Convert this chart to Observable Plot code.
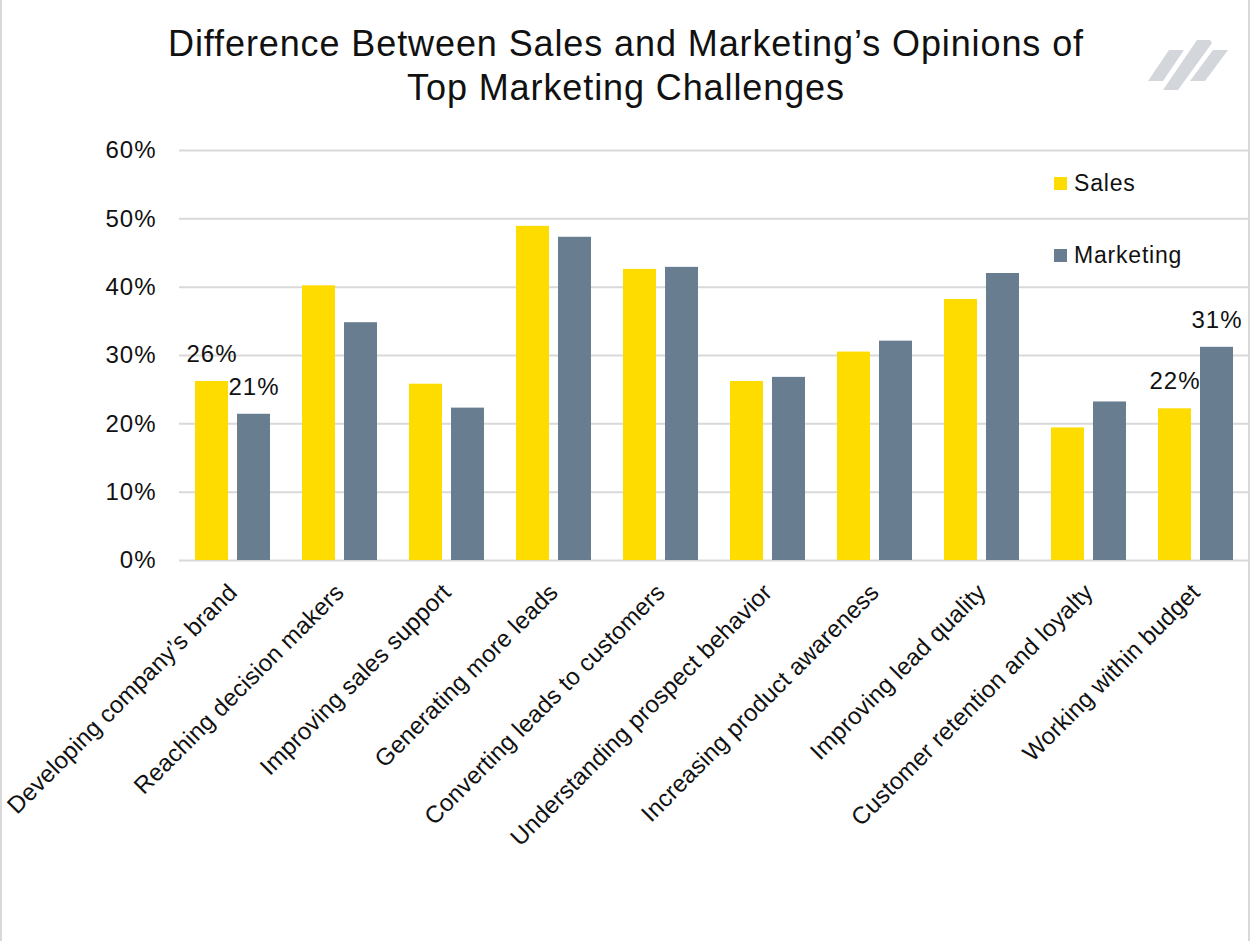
<!DOCTYPE html>
<html>
<head>
<meta charset="utf-8">
<script src="https://cdn.jsdelivr.net/npm/d3@7"></script>
<script src="https://cdn.jsdelivr.net/npm/@observablehq/plot@0.6"></script>
<style>
  html, body { margin: 0; padding: 0; background: #fff; }
  #wrap { position: relative; width: 1250px; height: 941px; overflow: hidden; background: #fff;
          font-family: "Liberation Sans", Arial, sans-serif; color: #111; }
  #title { position: absolute; left: 0; top: 22px; width: 1252px; text-align: center;
           font-size: 36px; letter-spacing: 0.9px; line-height: 44px; color: #111; }
  #chart { position: absolute; left: 0; top: 120px; }
  #chart text { letter-spacing: 1px; }
  #chart g[aria-label="fx-axis tick label"] text { letter-spacing: 0.15px; }
  #legend { position: absolute; left: 1054px; top: 0; font-size: 23px; letter-spacing: 0.8px; color: #111; }
  .lg { position: absolute; left: 0; display: flex; align-items: center; white-space: nowrap; }
  .sw { width: 13px; height: 13px; margin-right: 7px; }
  #logo { position: absolute; left: 1140px; top: 35px; }
  #border { position: absolute; left: 0; top: 0; width: 1250px; height: 941px; box-sizing: border-box;
            border-left: 2px solid #d9d9d9; border-right: 2px solid #d9d9d9; pointer-events: none; }
</style>
</head>
<body>
<div id="wrap">
  <div id="title">Difference Between Sales and Marketing’s Opinions of<br>Top Marketing Challenges</div>
  <svg id="logo" width="100" height="60" viewBox="0 0 100 60">
    <polygon points="8,46 23,46 44,15 29,15" fill="#d3d7db"/>
    <polygon points="23,55 38,55 72,8 70,5 63,5 57,5" fill="#d3d7db"/>
    <polygon points="50,46 65,46 88,15 73,15" fill="#d3d7db"/>
  </svg>
  <div id="chart"></div>
  <div id="legend"></div>
  <div id="border"></div>
</div>
<script>
const categories = [
  "Developing company’s brand",
  "Reaching decision makers",
  "Improving sales support",
  "Generating more leads",
  "Converting leads to customers",
  "Understanding prospect behavior",
  "Increasing product awareness",
  "Improving lead quality",
  "Customer retention and loyalty",
  "Working within budget"
];
const seriesNames = ["Sales", "Marketing"];
const seriesColors = ["#FFDC00", "#687D90"];
const salesValues     = [0.262, 0.402, 0.258, 0.489, 0.426, 0.262, 0.305, 0.382, 0.194, 0.222];
const marketingValues = [0.214, 0.348, 0.223, 0.473, 0.429, 0.268, 0.321, 0.420, 0.232, 0.312];
const labeledCategories = ["Developing company’s brand", "Working within budget"];
const yTicks = [0, 0.1, 0.2, 0.3, 0.4, 0.5, 0.6];

const data = categories.flatMap((c, i) => [
  {category: c, series: "Sales", value: salesValues[i]},
  {category: c, series: "Marketing", value: marketingValues[i]}
]);
const labelData = data.filter(d => labeledCategories.includes(d.category));
const pct = d => Math.round(d * 100) + "%";

const chart = Plot.plot({
  width: 1250,
  height: 821,
  marginLeft: 177,
  marginRight: 0,
  marginTop: 30,
  marginBottom: 381,
  style: {background: "transparent", fontFamily: "Liberation Sans, Arial, sans-serif", color: "#111"},
  fx: {domain: categories, padding: 0},
  x: {domain: seriesNames, paddingInner: 0.214, paddingOuter: 0.378, axis: null},
  y: {domain: [0, 0.6]},
  color: {domain: seriesNames, range: seriesColors},
  marks: [
    Plot.gridY(yTicks, {stroke: "#d9d9d9", strokeOpacity: 1, strokeWidth: 2}),
    Plot.axisY(yTicks, {tickFormat: pct, tickSize: 0, tickPadding: 23, fontSize: 24, label: null}),
    Plot.axisFx({anchor: "bottom", tickRotate: -45, tickSize: 0, tickPadding: 28, fontSize: 24,
      label: null, lineWidth: Infinity, textOverflow: null}),
    Plot.barY(data, {fx: "category", x: "series", y: "value", fill: "series"}),
    Plot.text(labelData, {fx: "category", x: "series", y: "value", text: d => pct(d.value),
      dy: -27, fontSize: 24, fill: "#111"})
  ]
});
document.getElementById("chart").appendChild(chart);

const legend = document.getElementById("legend");
const legendTops = [170, 242];
seriesNames.forEach((s, i) => {
  const row = document.createElement("div");
  row.className = "lg";
  row.style.top = legendTops[i] + "px";
  const sw = document.createElement("div");
  sw.className = "sw";
  sw.style.background = seriesColors[i];
  const t = document.createElement("span");
  t.textContent = s;
  row.appendChild(sw); row.appendChild(t);
  legend.appendChild(row);
});
</script>
</body>
</html>
